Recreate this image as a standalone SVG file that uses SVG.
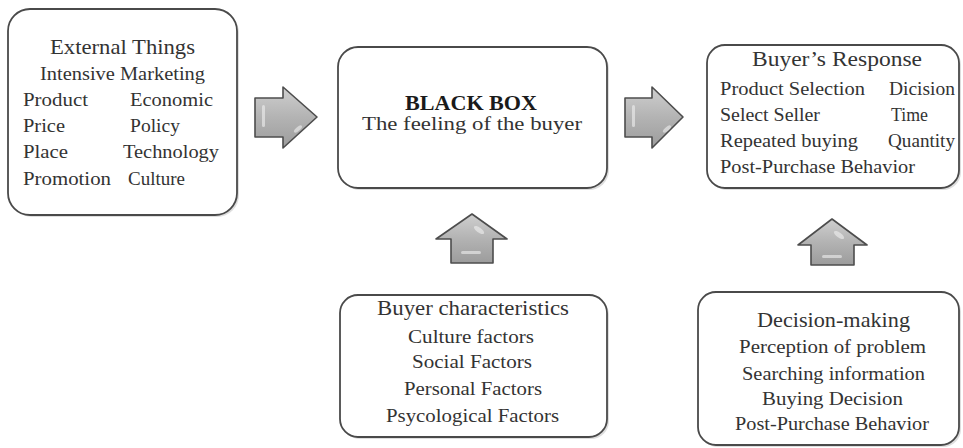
<svg xmlns="http://www.w3.org/2000/svg" width="963" height="448" viewBox="0 0 963 448">
<style>
.box{fill:#fff;stroke:#4a4a4a;stroke-width:1.8}
.shadow{fill:#c8c8c8;opacity:0.6}
.t{font-family:"Liberation Serif","Times New Roman",serif;font-size:19px;fill:#333}
.h{font-size:21px}
.b{font-weight:bold;font-size:20px;fill:#1a1a1a}
.c{text-anchor:middle}
.arr{fill:url(#g);stroke:#4d4d4d;stroke-width:1.6;stroke-linejoin:round}
.hl{fill:#f0f0f0;opacity:0.6}
</style>
<defs>
<linearGradient id="g" x1="0" y1="0" x2="0" y2="1">
<stop offset="0" stop-color="#cfcfcf"/>
<stop offset="0.5" stop-color="#b3b3b3"/>
<stop offset="1" stop-color="#9c9c9c"/>
</linearGradient>
</defs>
<rect width="963" height="448" fill="#fff"/>

<g id="external-things">
<rect class="shadow" x="10" y="11" width="229" height="206" rx="22"/>
<rect class="box" x="8" y="9" width="229" height="206" rx="22"/>
<text class="t h c" x="122.5" y="54" textLength="145" lengthAdjust="spacingAndGlyphs">External Things</text>
<text class="t" x="40" y="80" textLength="165" lengthAdjust="spacingAndGlyphs">Intensive Marketing</text>
<text class="t" x="23" y="106" textLength="65" lengthAdjust="spacingAndGlyphs">Product</text>
<text class="t" x="130" y="106" textLength="83" lengthAdjust="spacingAndGlyphs">Economic</text>
<text class="t" x="23" y="132" textLength="42" lengthAdjust="spacingAndGlyphs">Price</text>
<text class="t" x="130" y="132" textLength="50" lengthAdjust="spacingAndGlyphs">Policy</text>
<text class="t" x="23" y="158" textLength="45" lengthAdjust="spacingAndGlyphs">Place</text>
<text class="t" x="123" y="158" textLength="96" lengthAdjust="spacingAndGlyphs">Technology</text>
<text class="t" x="23" y="185" textLength="88" lengthAdjust="spacingAndGlyphs">Promotion</text>
<text class="t" x="128" y="185" textLength="57" lengthAdjust="spacingAndGlyphs">Culture</text>
</g>

<g id="black-box">
<rect class="shadow" x="340" y="49" width="269" height="141" rx="20"/>
<rect class="box" x="338" y="47" width="269" height="141" rx="20"/>
<text class="t b c" x="471" y="110" textLength="132" lengthAdjust="spacingAndGlyphs">BLACK BOX</text>
<text class="t c" x="472" y="130" textLength="220" lengthAdjust="spacingAndGlyphs">The feeling of the buyer</text>
</g>

<g id="buyers-response">
<rect class="shadow" x="709" y="47" width="252" height="143" rx="18"/>
<rect class="box" x="707" y="45" width="252" height="143" rx="18"/>
<text class="t h c" x="837" y="66" textLength="170" lengthAdjust="spacingAndGlyphs">Buyer’s Response</text>
<text class="t" x="720" y="95" textLength="145" lengthAdjust="spacingAndGlyphs">Product Selection</text>
<text class="t" x="889" y="95" textLength="66" lengthAdjust="spacingAndGlyphs">Dicision</text>
<text class="t" x="720" y="121" textLength="100" lengthAdjust="spacingAndGlyphs">Select Seller</text>
<text class="t" x="891" y="121" textLength="37" lengthAdjust="spacingAndGlyphs">Time</text>
<text class="t" x="720" y="147" textLength="138" lengthAdjust="spacingAndGlyphs">Repeated buying</text>
<text class="t" x="888" y="147" textLength="67" lengthAdjust="spacingAndGlyphs">Quantity</text>
<text class="t" x="720" y="173" textLength="195" lengthAdjust="spacingAndGlyphs">Post-Purchase Behavior</text>
</g>

<g id="buyer-characteristics">
<rect class="shadow" x="342" y="297" width="267" height="142" rx="18"/>
<rect class="box" x="340" y="295" width="267" height="142" rx="18"/>
<text class="t h c" x="473" y="315" textLength="192" lengthAdjust="spacingAndGlyphs">Buyer characteristics</text>
<text class="t c" x="471" y="343" textLength="126" lengthAdjust="spacingAndGlyphs">Culture factors</text>
<text class="t c" x="472" y="368" textLength="120" lengthAdjust="spacingAndGlyphs">Social Factors</text>
<text class="t c" x="473" y="395" textLength="138" lengthAdjust="spacingAndGlyphs">Personal Factors</text>
<text class="t c" x="472.5" y="422" textLength="173" lengthAdjust="spacingAndGlyphs">Psycological Factors</text>
</g>

<g id="decision-making">
<rect class="shadow" x="700" y="294" width="261" height="153" rx="18"/>
<rect class="box" x="698" y="292" width="261" height="153" rx="18"/>
<text class="t h c" x="833.5" y="327" textLength="153" lengthAdjust="spacingAndGlyphs">Decision-making</text>
<text class="t c" x="832.5" y="353" textLength="187" lengthAdjust="spacingAndGlyphs">Perception of problem</text>
<text class="t c" x="833.5" y="380" textLength="183" lengthAdjust="spacingAndGlyphs">Searching information</text>
<text class="t c" x="832.5" y="405" textLength="141" lengthAdjust="spacingAndGlyphs">Buying Decision</text>
<text class="t c" x="832" y="430" textLength="194" lengthAdjust="spacingAndGlyphs">Post-Purchase Behavior</text>
</g>

<g id="connectors">
<g id="arrow-external-to-blackbox">
<polygon class="arr" points="255,98 283,98 283,87 317,117 283,148 283,137 255,137"/>
<rect class="hl" x="262" y="105" width="3" height="22" rx="1.5"/>
<ellipse class="hl" cx="298" cy="129" rx="5" ry="2" transform="rotate(-40 298 129)"/>
</g>
<g id="arrow-blackbox-to-response">
<polygon class="arr" points="625,98 652,98 652,87 683,117 652,148 652,137 625,137"/>
<rect class="hl" x="632" y="105" width="3" height="22" rx="1.5"/>
<ellipse class="hl" cx="667" cy="129" rx="5" ry="2" transform="rotate(-40 667 129)"/>
</g>
<g id="arrow-characteristics-to-blackbox">
<polygon class="arr" points="472,214 507,239 493,239 493,263 451,263 451,239 436,239"/>
<ellipse class="hl" cx="479" cy="230" rx="6" ry="2.5" transform="rotate(35 479 230)"/>
<rect class="hl" x="461" y="251" width="20" height="3" rx="1.5"/>
</g>
<g id="arrow-decision-to-response">
<polygon class="arr" points="832,219 867,245 854,245 854,265 811,265 811,245 798,245"/>
<ellipse class="hl" cx="839" cy="235" rx="6" ry="2.5" transform="rotate(35 839 235)"/>
<rect class="hl" x="822" y="255" width="20" height="3" rx="1.5"/>
</g>
</g>
</svg>
